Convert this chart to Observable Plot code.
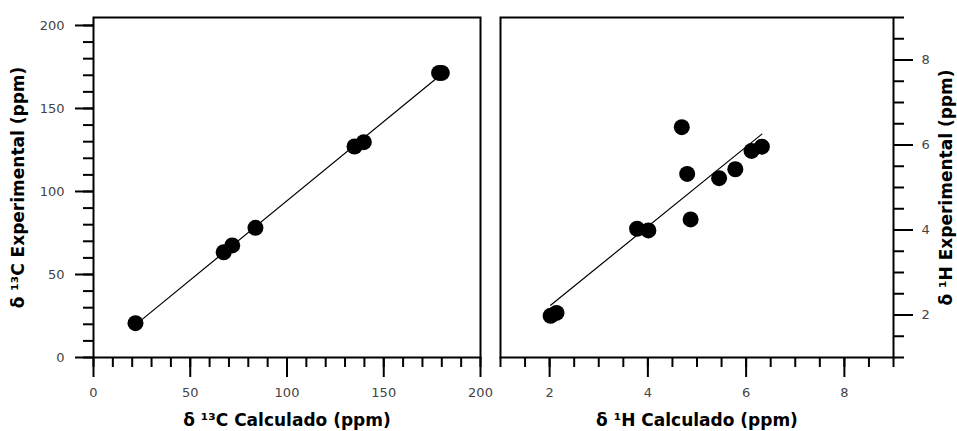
<!DOCTYPE html>
<html>
<head>
<meta charset="utf-8">
<script src="https://cdn.jsdelivr.net/npm/d3@7"></script>
<script src="https://cdn.jsdelivr.net/npm/@observablehq/plot@0.6"></script>
<style>
  html, body { margin: 0; padding: 0; background: white; }
  #wrap { position: relative; width: 957px; height: 431px; overflow: hidden; }
  #wrap svg { position: absolute; top: 0; }
</style>
</head>
<body>
<div id="wrap"></div>
<script>
// 13C panel data
const c13Calc = [21.7, 67.3, 71.7, 83.7, 134.9, 139.7, 178.6, 180.0];
const c13Exp  = [20.7, 63.4, 67.5, 78.1, 127.1, 129.7, 171.4, 171.4];
// 1H panel data
const h1Calc = [2.02, 2.14, 3.78, 4.01, 4.69, 4.80, 4.87, 5.45, 5.78, 6.11, 6.32];
const h1Exp  = [1.98, 2.05, 4.03, 3.99, 6.42, 5.32, 4.25, 5.22, 5.43, 5.86, 5.96];

// tick labels
const c13MajorTicks = [0, 50, 100, 150, 200];
const c13MinorTicks = d3.range(0, 201, 10);
const h1MajorTicks = [2, 4, 6, 8];
const h1MinorTicks = d3.range(1, 9.01, 0.5);

// axis titles
const c13XLabel = "δ ¹³C Calculado (ppm)";
const c13YLabel = "δ ¹³C Experimental (ppm)";
const h1XLabel = "δ ¹H Calculado (ppm)";
const h1YLabel = "δ ¹H Experimental (ppm)";

const c13 = c13Calc.map((x, i) => ({x, y: c13Exp[i]}));
const h1 = h1Calc.map((x, i) => ({x, y: h1Exp[i]}));

const tickColor = "black";
const labelColor = "#444";
const blank = () => "";
const titleSize = 17;

const left = Plot.plot({
  width: 490, height: 431,
  marginLeft: 93, marginRight: 10, marginTop: 17, marginBottom: 74,
  style: {fontFamily: "DejaVu Sans", fontSize: "13px", overflow: "visible", background: "transparent"},
  x: {domain: [0, 200], label: null},
  y: {domain: [0, 204.8], label: null},
  marks: [
    Plot.axisX({ticks: c13MinorTicks, tickSize: 10, tickFormat: blank, stroke: tickColor, strokeWidth: 2, label: null}),
    Plot.axisX({ticks: c13MajorTicks, tickSize: 20, tickPadding: 10, stroke: tickColor, fill: labelColor, strokeWidth: 2, fontSize: 13, label: null}),
    Plot.axisY({ticks: c13MinorTicks, tickSize: 10, tickFormat: blank, stroke: tickColor, strokeWidth: 2, label: null}),
    Plot.axisY({ticks: c13MajorTicks, tickSize: 18, tickPadding: 11, stroke: tickColor, fill: labelColor, strokeWidth: 2, fontSize: 13, label: null}),
    Plot.linearRegressionY(c13, {x: "x", y: "y", ci: 0, stroke: "black", strokeWidth: 1.2}),
    Plot.dot(c13, {x: "x", y: "y", r: 8, fill: "black", stroke: "none"}),
    Plot.frame({stroke: "black", strokeWidth: 2}),
    Plot.text([c13XLabel], {text: d => d, frameAnchor: "bottom", lineAnchor: "middle", dy: 63, fontSize: titleSize, fontWeight: "bold", fill: "black"}),
    Plot.text([c13YLabel], {text: d => d, frameAnchor: "left", textAnchor: "middle", lineAnchor: "middle", dx: -75, rotate: -90, fontSize: titleSize, fontWeight: "bold", fill: "black"})
  ]
});
left.style.left = "0px";

const right = Plot.plot({
  width: 467, height: 431,
  marginLeft: 10, marginRight: 64, marginTop: 17, marginBottom: 74,
  style: {fontFamily: "DejaVu Sans", fontSize: "13px", overflow: "visible", background: "transparent"},
  x: {domain: [1, 9], label: null},
  y: {domain: [1, 9], label: null},
  marks: [
    Plot.axisX({ticks: h1MinorTicks, tickSize: 10, tickFormat: blank, stroke: tickColor, strokeWidth: 2, label: null}),
    Plot.axisX({ticks: h1MajorTicks, tickSize: 20, tickPadding: 10, stroke: tickColor, fill: labelColor, strokeWidth: 2, fontSize: 13, label: null}),
    Plot.axisY({anchor: "right", ticks: h1MinorTicks, tickSize: 10, tickFormat: blank, stroke: tickColor, strokeWidth: 2, label: null}),
    Plot.axisY({anchor: "right", ticks: h1MajorTicks, tickSize: 19, tickPadding: 9, stroke: tickColor, fill: labelColor, strokeWidth: 2, fontSize: 13, label: null}),
    Plot.linearRegressionY(h1, {x: "x", y: "y", ci: 0, stroke: "black", strokeWidth: 1.2}),
    Plot.dot(h1, {x: "x", y: "y", r: 8, fill: "black", stroke: "none"}),
    Plot.frame({stroke: "black", strokeWidth: 2}),
    Plot.text([h1XLabel], {text: d => d, frameAnchor: "bottom", lineAnchor: "middle", dy: 63, fontSize: titleSize, fontWeight: "bold", fill: "black"}),
    Plot.text([h1YLabel], {text: d => d, frameAnchor: "right", textAnchor: "middle", lineAnchor: "middle", dx: 53, rotate: -90, fontSize: titleSize, fontWeight: "bold", fill: "black"})
  ]
});
right.style.left = "490px";

const wrap = document.getElementById("wrap");
wrap.appendChild(left);
wrap.appendChild(right);
</script>
</body>
</html>
